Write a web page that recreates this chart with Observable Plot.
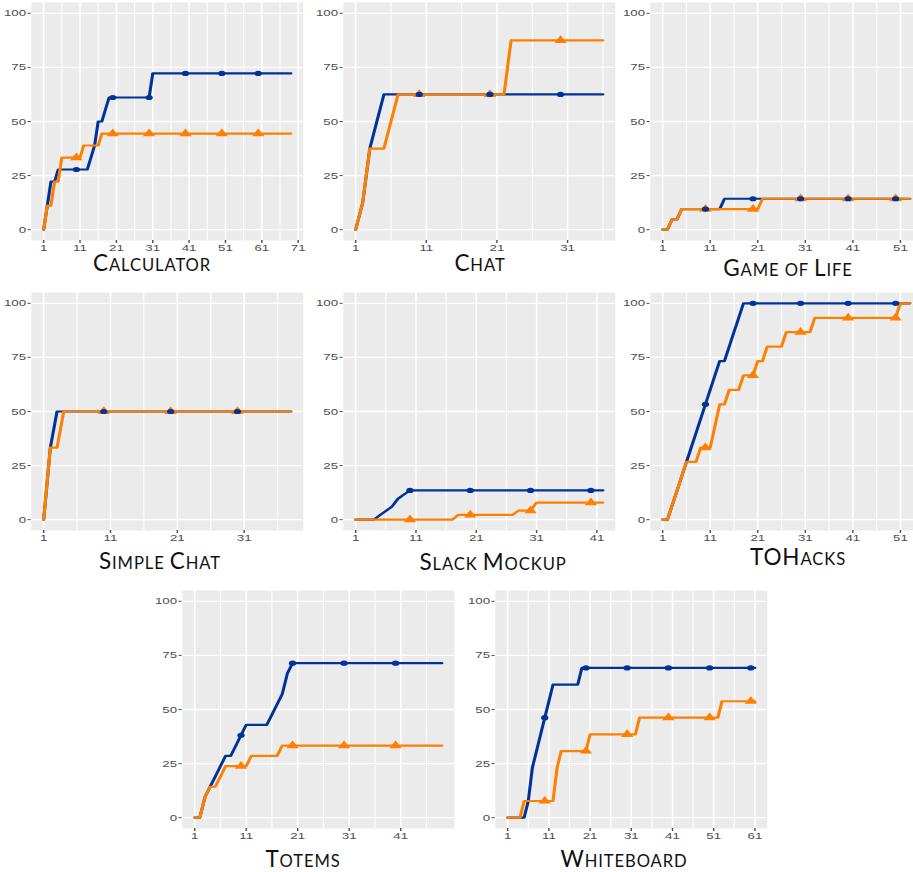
<!DOCTYPE html>
<html>
<head>
<meta charset="utf-8">
<script src="https://cdn.jsdelivr.net/npm/d3@7"></script>
<script src="https://cdn.jsdelivr.net/npm/@observablehq/plot@0.6"></script>
<style>
  html, body { margin: 0; padding: 0; background: #fff; overflow: hidden; }
  #figure { position: relative; width: 913px; height: 872px; overflow: hidden; }
  .panel { position: absolute; transform: scaleX(1.4); transform-origin: 0 0; }
  .panel svg { display: block; overflow: visible; }
  .caption {
    position: absolute; white-space: nowrap; transform: translateX(-50%);
    font-family: Lato, "Open Sans", sans-serif;
    font-size: 22.5px; line-height: 16px; letter-spacing: 0.9px; color: #111;
  }
  .caption .sc { font-size: 16.6px; text-transform: uppercase; }
</style>
</head>
<body>
<div id="figure"></div>
<script>
// Cumulative percentage per step (step 1 = index 0), two series per project.
const calculatorBlue = [
  0, 11.1, 22.2, 22.2, 27.8, 27.8, 27.8, 27.8, 27.8, 27.8,
  27.8, 27.8, 27.8, 33.3, 38.9, 50, 50, 55.6, 61.1, 61.1,
  61.1, 61.1, 61.1, 61.1, 61.1, 61.1, 61.1, 61.1, 61.1, 61.1,
  72.2, 72.2, 72.2, 72.2, 72.2, 72.2, 72.2, 72.2, 72.2, 72.2,
  72.2, 72.2, 72.2, 72.2, 72.2, 72.2, 72.2, 72.2, 72.2, 72.2,
  72.2, 72.2, 72.2, 72.2, 72.2, 72.2, 72.2, 72.2, 72.2, 72.2,
  72.2, 72.2, 72.2, 72.2, 72.2, 72.2, 72.2, 72.2, 72.2
];
const calculatorOrange = [
  0, 11.1, 11.1, 22.2, 22.2, 33.3, 33.3, 33.3, 33.3, 33.3,
  33.3, 38.9, 38.9, 38.9, 38.9, 38.9, 44.4, 44.4, 44.4, 44.4,
  44.4, 44.4, 44.4, 44.4, 44.4, 44.4, 44.4, 44.4, 44.4, 44.4,
  44.4, 44.4, 44.4, 44.4, 44.4, 44.4, 44.4, 44.4, 44.4, 44.4,
  44.4, 44.4, 44.4, 44.4, 44.4, 44.4, 44.4, 44.4, 44.4, 44.4,
  44.4, 44.4, 44.4, 44.4, 44.4, 44.4, 44.4, 44.4, 44.4, 44.4,
  44.4, 44.4, 44.4, 44.4, 44.4, 44.4, 44.4, 44.4, 44.4
];
const chatBlue = [
  0, 12.5, 37.5, 50, 62.5, 62.5, 62.5, 62.5, 62.5, 62.5,
  62.5, 62.5, 62.5, 62.5, 62.5, 62.5, 62.5, 62.5, 62.5, 62.5,
  62.5, 62.5, 62.5, 62.5, 62.5, 62.5, 62.5, 62.5, 62.5, 62.5,
  62.5, 62.5, 62.5, 62.5, 62.5, 62.5
];
const chatOrange = [
  0, 12.5, 37.5, 37.5, 37.5, 50, 62.5, 62.5, 62.5, 62.5,
  62.5, 62.5, 62.5, 62.5, 62.5, 62.5, 62.5, 62.5, 62.5, 62.5,
  62.5, 62.5, 87.5, 87.5, 87.5, 87.5, 87.5, 87.5, 87.5, 87.5,
  87.5, 87.5, 87.5, 87.5, 87.5, 87.5
];
const gameOfLifeBlue = [
  0, 0, 4.8, 4.8, 9.5, 9.5, 9.5, 9.5, 9.5, 9.5,
  9.5, 9.5, 9.5, 14.3, 14.3, 14.3, 14.3, 14.3, 14.3, 14.3,
  14.3, 14.3, 14.3, 14.3, 14.3, 14.3, 14.3, 14.3, 14.3, 14.3,
  14.3, 14.3, 14.3, 14.3, 14.3, 14.3, 14.3, 14.3, 14.3, 14.3,
  14.3, 14.3, 14.3, 14.3, 14.3, 14.3, 14.3, 14.3, 14.3, 14.3,
  14.3, 14.3, 14.3
];
const gameOfLifeOrange = [
  0, 0, 4.8, 4.8, 9.5, 9.5, 9.5, 9.5, 9.5, 9.5,
  9.5, 9.5, 9.5, 9.5, 9.5, 9.5, 9.5, 9.5, 9.5, 9.5,
  9.5, 14.3, 14.3, 14.3, 14.3, 14.3, 14.3, 14.3, 14.3, 14.3,
  14.3, 14.3, 14.3, 14.3, 14.3, 14.3, 14.3, 14.3, 14.3, 14.3,
  14.3, 14.3, 14.3, 14.3, 14.3, 14.3, 14.3, 14.3, 14.3, 14.3,
  14.3, 14.3, 14.3
];
const simpleChatBlue = [
  0, 33.3, 50, 50, 50, 50, 50, 50, 50, 50,
  50, 50, 50, 50, 50, 50, 50, 50, 50, 50,
  50, 50, 50, 50, 50, 50, 50, 50, 50, 50,
  50, 50, 50, 50, 50, 50, 50, 50
];
const simpleChatOrange = [
  0, 33.3, 33.3, 50, 50, 50, 50, 50, 50, 50,
  50, 50, 50, 50, 50, 50, 50, 50, 50, 50,
  50, 50, 50, 50, 50, 50, 50, 50, 50, 50,
  50, 50, 50, 50, 50, 50, 50, 50
];
const slackMockupBlue = [
  0, 0, 0, 0, 2.0, 4.0, 6.0, 9.6, 11.6, 13.5,
  13.5, 13.5, 13.5, 13.5, 13.5, 13.5, 13.5, 13.5, 13.5, 13.5,
  13.5, 13.5, 13.5, 13.5, 13.5, 13.5, 13.5, 13.5, 13.5, 13.5,
  13.5, 13.5, 13.5, 13.5, 13.5, 13.5, 13.5, 13.5, 13.5, 13.5,
  13.5, 13.5
];
const slackMockupOrange = [
  0, 0, 0, 0, 0, 0, 0, 0, 0, 0,
  0, 0, 0, 0, 0, 0, 0, 2.2, 2.2, 2.2,
  2.2, 2.2, 2.2, 2.2, 2.2, 2.2, 2.2, 4.2, 4.2, 4.2,
  7.9, 7.9, 7.9, 7.9, 7.9, 7.9, 7.9, 7.9, 7.9, 7.9,
  7.9, 7.9
];
const toHacksBlue = [
  0, 0, 6.7, 13.3, 20, 26.7, 33.3, 40, 46.7, 53.3,
  60, 66.7, 73.3, 73.3, 80, 86.7, 93.3, 100, 100, 100,
  100, 100, 100, 100, 100, 100, 100, 100, 100, 100,
  100, 100, 100, 100, 100, 100, 100, 100, 100, 100,
  100, 100, 100, 100, 100, 100, 100, 100, 100, 100,
  100, 100, 100
];
const toHacksOrange = [
  0, 0, 6.7, 13.3, 20, 26.7, 26.7, 26.7, 33.3, 33.3,
  33.3, 43.3, 53.3, 53.3, 60, 60, 60, 66.7, 66.7, 66.7,
  73.3, 73.3, 80, 80, 80, 80, 86.7, 86.7, 86.7, 86.7,
  86.7, 86.7, 93.3, 93.3, 93.3, 93.3, 93.3, 93.3, 93.3, 93.3,
  93.3, 93.3, 93.3, 93.3, 93.3, 93.3, 93.3, 93.3, 93.3, 93.3,
  100, 100, 100
];
const totemsBlue = [
  0, 0, 9.5, 14.3, 19.0, 23.8, 28.6, 28.6, 33.3, 38.1,
  42.9, 42.9, 42.9, 42.9, 42.9, 47.6, 52.4, 57.1, 66.7, 71.4,
  71.4, 71.4, 71.4, 71.4, 71.4, 71.4, 71.4, 71.4, 71.4, 71.4,
  71.4, 71.4, 71.4, 71.4, 71.4, 71.4, 71.4, 71.4, 71.4, 71.4,
  71.4, 71.4, 71.4, 71.4, 71.4, 71.4, 71.4, 71.4, 71.4
];
const totemsOrange = [
  0, 0, 9.5, 14.3, 14.3, 19.0, 23.8, 23.8, 23.8, 23.8,
  23.8, 28.6, 28.6, 28.6, 28.6, 28.6, 28.6, 33.3, 33.3, 33.3,
  33.3, 33.3, 33.3, 33.3, 33.3, 33.3, 33.3, 33.3, 33.3, 33.3,
  33.3, 33.3, 33.3, 33.3, 33.3, 33.3, 33.3, 33.3, 33.3, 33.3,
  33.3, 33.3, 33.3, 33.3, 33.3, 33.3, 33.3, 33.3, 33.3
];
const whiteboardBlue = [
  0, 0, 0, 0, 0, 7.7, 23.1, 30.8, 38.5, 46.2,
  53.8, 61.5, 61.5, 61.5, 61.5, 61.5, 61.5, 61.5, 69.2, 69.2,
  69.2, 69.2, 69.2, 69.2, 69.2, 69.2, 69.2, 69.2, 69.2, 69.2,
  69.2, 69.2, 69.2, 69.2, 69.2, 69.2, 69.2, 69.2, 69.2, 69.2,
  69.2, 69.2, 69.2, 69.2, 69.2, 69.2, 69.2, 69.2, 69.2, 69.2,
  69.2, 69.2, 69.2, 69.2, 69.2, 69.2, 69.2, 69.2, 69.2, 69.2,
  69.2
];
const whiteboardOrange = [
  0, 0, 0, 0, 7.7, 7.7, 7.7, 7.7, 7.7, 7.7,
  7.7, 7.7, 23.1, 30.8, 30.8, 30.8, 30.8, 30.8, 30.8, 30.8,
  38.5, 38.5, 38.5, 38.5, 38.5, 38.5, 38.5, 38.5, 38.5, 38.5,
  38.5, 38.5, 46.2, 46.2, 46.2, 46.2, 46.2, 46.2, 46.2, 46.2,
  46.2, 46.2, 46.2, 46.2, 46.2, 46.2, 46.2, 46.2, 46.2, 46.2,
  46.2, 46.2, 53.8, 53.8, 53.8, 53.8, 53.8, 53.8, 53.8, 53.8,
  53.8
];

const projectTitles = ["Calculator", "Chat", "Game of Life", "Simple Chat", "Slack Mockup", "TOHacks", "Totems", "Whiteboard"];
const blueSeries = [calculatorBlue, chatBlue, gameOfLifeBlue, simpleChatBlue, slackMockupBlue, toHacksBlue, totemsBlue, whiteboardBlue];
const orangeSeries = [calculatorOrange, chatOrange, gameOfLifeOrange, simpleChatOrange, slackMockupOrange, toHacksOrange, totemsOrange, whiteboardOrange];
// Last labelled step on each x axis (labels run 1, 11, 21, ... up to it).
const lastXTick = [71, 31, 51, 31, 41, 51, 41, 61];
const yTicks = [0, 25, 50, 75, 100];

// Page layout: left/top edge of each panel's grey frame, and caption centre/baseline.
const layout = [
  {frameLeft: 31,  frameTop: 2,   captionX: 152, captionBaseline: 271},
  {frameLeft: 343, frameTop: 2,   captionX: 480, captionBaseline: 271},
  {frameLeft: 650, frameTop: 2,   captionX: 788, captionBaseline: 276},
  {frameLeft: 31,  frameTop: 292, captionX: 160, captionBaseline: 569},
  {frameLeft: 343, frameTop: 292, captionX: 493, captionBaseline: 570},
  {frameLeft: 650, frameTop: 292, captionX: 798, captionBaseline: 565},
  {frameLeft: 182, frameTop: 590, captionX: 303, captionBaseline: 867},
  {frameLeft: 495, frameTop: 590, captionX: 624, captionBaseline: 867}
];

const BLUE = "#003399";
const ORANGE = "#FF7F00";
const STRETCH = 1.4;          // panels are drawn narrow and widened horizontally
const FRAME_W = 272, FRAME_H = 238;
const ML = 24, MR = 2, MT = 2, MB = 20;

function panel(blue, orange, lastTick) {
  const n = blue.length;
  const pad = 0.05 * (n - 1);
  const xDomain = [1 - pad, n + pad];
  const toRows = s => s.map((v, i) => ({step: i + 1, pct: v}));
  const b = toRows(blue), o = toRows(orange);
  const major = d3.range(1, lastTick + 1, 10);
  // minor lines halfway between labels, including one past either end
  const minor = d3.range(-4, lastTick + 10, 10).filter(v => v > xDomain[0] && v < xDomain[1]);
  const marked = rows => rows.filter(d => d.step % 10 === 0);
  return Plot.plot({
    width: ML + FRAME_W / STRETCH + MR,
    height: MT + FRAME_H + MB,
    marginLeft: ML, marginRight: MR, marginTop: MT, marginBottom: MB,
    style: {fontFamily: "'Liberation Sans', Arial, sans-serif", fontSize: "9.5px", color: "#4D4D4D", background: "transparent"},
    x: {domain: xDomain, label: null},
    y: {domain: [-5, 105], label: null},
    marks: [
      Plot.frame({fill: "#EBEBEB", stroke: "none"}),
      Plot.gridX(minor, {stroke: "#fff", strokeOpacity: 1, strokeWidth: 0.8}),
      Plot.gridX(major, {stroke: "#fff", strokeOpacity: 1, strokeWidth: 1.1}),
      Plot.gridY(yTicks, {stroke: "#fff", strokeOpacity: 1, strokeWidth: 1.3}),
      Plot.axisX(major, {tickSize: 3, tickPadding: 1, label: null}),
      Plot.axisY(yTicks, {tickSize: 2.2, tickPadding: 1.5, label: null}),
      Plot.line(b, {x: "step", y: "pct", stroke: BLUE, strokeWidth: 2.2}),
      Plot.line(o, {x: "step", y: "pct", stroke: ORANGE, strokeWidth: 2.2}),
      Plot.dot(marked(o), {x: "step", y: "pct", symbol: "triangle", r: 3.3, fill: ORANGE, stroke: "none"}),
      Plot.dot(marked(b), {x: "step", y: "pct", symbol: "circle", r: 2.6, fill: BLUE, stroke: "none"})
    ]
  });
}

// Small-caps caption: capitals stay full size, lower-case letters become small capitals.
function caption(title) {
  const el = document.createElement("div");
  el.className = "caption";
  for (const run of title.match(/[A-Z]+|[^A-Z]+/g)) {
    const span = document.createElement("span");
    if (!/^[A-Z]+$/.test(run)) span.className = "sc";
    span.textContent = run;
    el.appendChild(span);
  }
  return el;
}

const figure = document.getElementById("figure");
projectTitles.forEach((title, i) => {
  const L = layout[i];
  const holder = document.createElement("div");
  holder.className = "panel";
  holder.style.left = (L.frameLeft - ML * STRETCH) + "px";
  holder.style.top = (L.frameTop - MT) + "px";
  holder.appendChild(panel(blueSeries[i], orangeSeries[i], lastXTick[i]));
  figure.appendChild(holder);

  const cap = caption(title);
  cap.style.left = L.captionX + "px";
  cap.style.top = (L.captionBaseline - 16.5) + "px";
  figure.appendChild(cap);
});
</script>
</body>
</html>
